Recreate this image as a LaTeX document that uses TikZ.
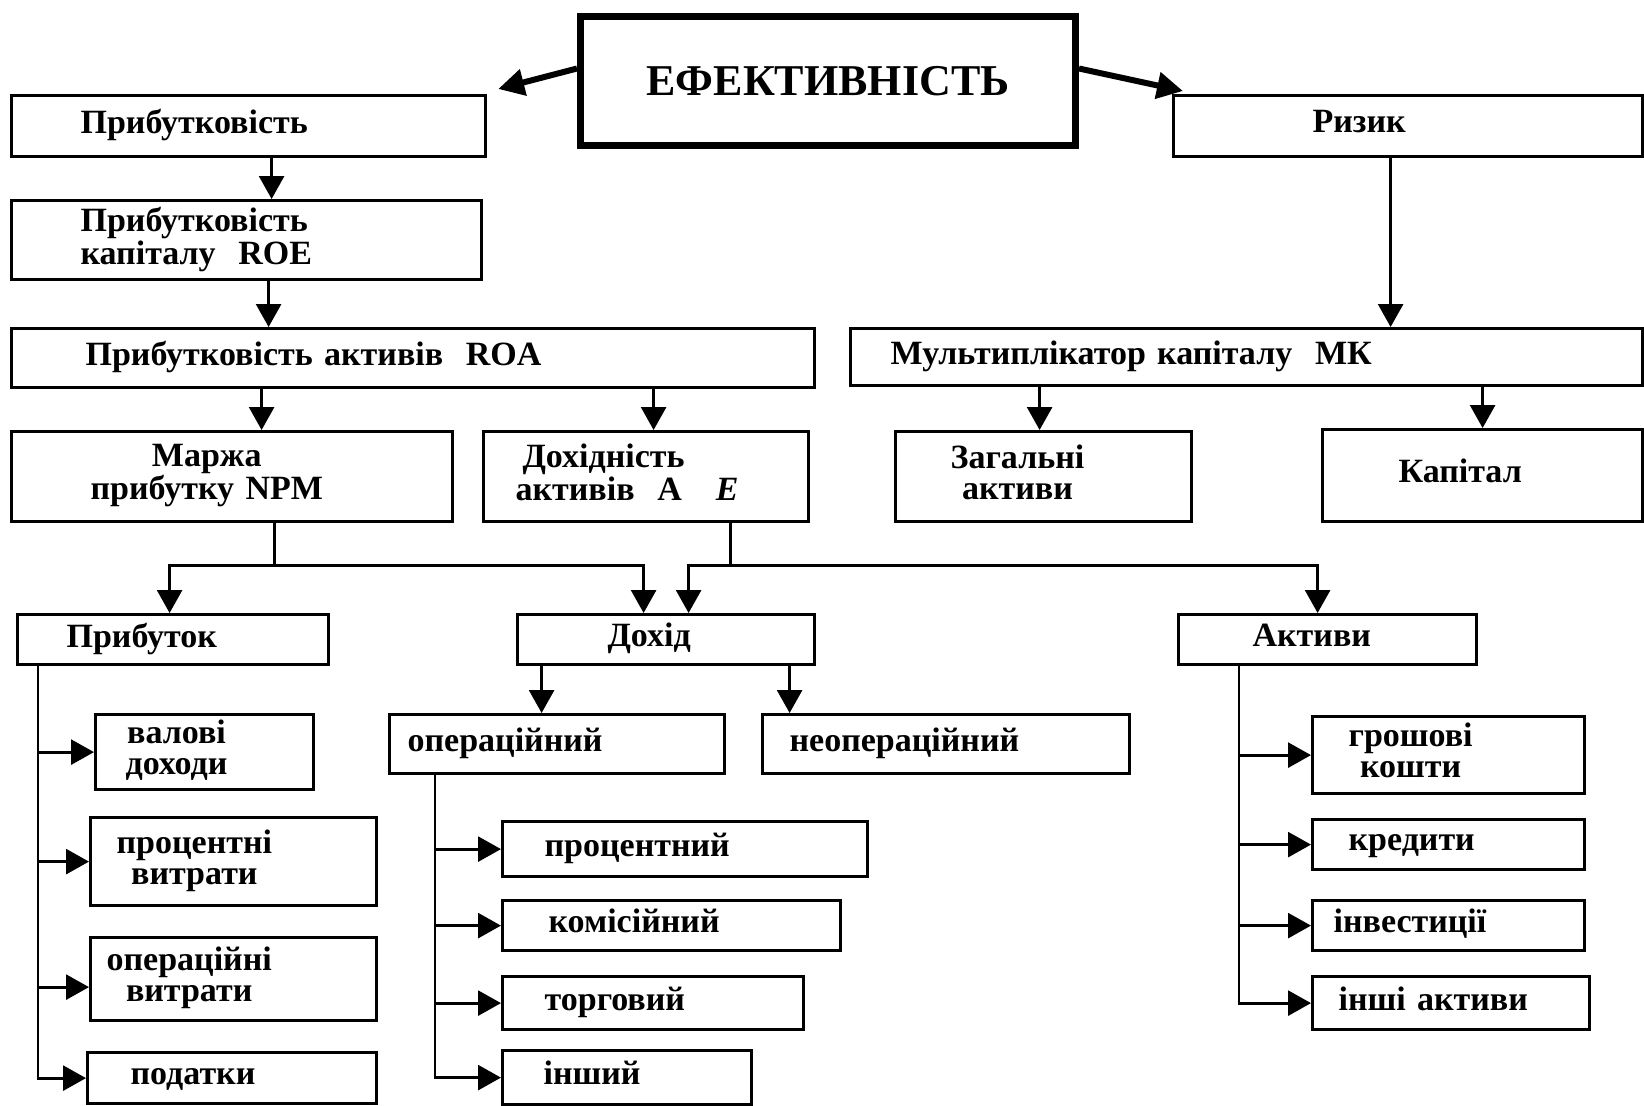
\documentclass[tikz,border=0pt]{standalone}
\usepackage{fontspec}
\setmainfont{Liberation Serif}
\usetikzlibrary{arrows.meta}
\newcommand\bxt[2]{\hspace*{#1}\begin{tabular}{@{}c@{}}#2\end{tabular}}
\newcommand\bxl[2]{\hspace*{#1}\begin{tabular}{@{}l@{}}#2\end{tabular}}
\begin{document}
\begin{tikzpicture}[x=0.5pt,y=-0.5pt,
 bx/.style={draw, line width=1.6pt, anchor=north west, inner xsep=0pt, inner ysep=0pt, align=left, font=\fontsize{17}{15.5}\selectfont\bfseries},
 conn/.style={line width=1.4pt, -{Triangle[length=11.5pt,width=12.5pt]}},
 bigconn/.style={line width=3pt, -{Triangle[length=13pt,width=13pt]}},
 ln/.style={line width=1.4pt}]
\useasboundingbox (0,0) rectangle (1644,1105);
\fill[white] (0,0) rectangle (1644,1105);

% main
\node[draw, line width=3.5pt, anchor=north west, minimum width=247.5pt, minimum height=64.5pt, inner sep=0pt, font=\fontsize{22}{26}\selectfont\bfseries] (main) at (577,13) {ЕФЕКТИВНІСТЬ};

% level 1
\node[bx, text width=237pt, minimum height=30.5pt] (prib) at (10,94) {\bxt{34.5pt}{Прибутковість}};
\node[bx, text width=234.5pt, minimum height=30.5pt] (rizyk) at (1172,94) {\bxt{69.5pt}{Ризик}};
\node[bx, text width=235pt, minimum height=39.5pt] (roe) at (10,199) {\bxl{34.5pt}{Прибутковість\\капіталу\ \ ROE}};
\node[bx, text width=401.5pt, minimum height=29.5pt] (roa) at (10,327) {\bxt{37pt}{Прибутковість активів\ \ ROA}};
\node[bx, text width=396pt, minimum height=28.5pt] (mk) at (849,327) {\bxt{20pt}{Мультиплікатор капіталу\ \ МК}};

% level 3
\node[bx, text width=220.5pt, minimum height=45pt] (npm) at (10,430) {\bxt{39.5pt}{Маржа\\прибутку NPM}};
\node[bx, text width=162.5pt, minimum height=45pt] (doh) at (482,430) {\bxl{16pt}{\hspace*{3.5pt}Дохідність\\активів\ \ A\quad\textit{E}}};
\node[bx, text width=148pt, minimum height=45pt] (zag) at (894,430) {\bxt{27.5pt}{Загальні\\активи}};
\node[bx, text width=160pt, minimum height=46pt] (kap) at (1321,428) {\bxt{38pt}{Капітал}};

% level 4
\node[bx, text width=155.5pt, minimum height=25pt] (prbt) at (16,613) {\bxt{24.5pt}{Прибуток}};
\node[bx, text width=148.5pt, minimum height=25pt] (dohid) at (516,613) {\bxt{45pt}{Дохід}};
\node[bx, text width=149pt, minimum height=25pt] (aktyvy) at (1177,613) {\bxt{37pt}{Активи}};

\node[bx, text width=167.5pt, minimum height=29.5pt] (oper) at (388,713) {\bxt{9pt}{операційний}};
\node[bx, text width=183.5pt, minimum height=29.5pt] (neop) at (761,713) {\bxt{13.5pt}{неопераційний}};

% left column
\node[bx, text width=109pt, minimum height=37.5pt] (valovi) at (94,713) {\bxt{15pt}{валові\\доходи}};
\node[bx, text width=143pt, minimum height=44pt] (protsvyt) at (89,816) {\bxt{13pt}{процентні\\витрати}};
\node[bx, text width=143pt, minimum height=41.5pt] (opervyt) at (89,936) {\bxt{8pt}{операційні\\витрати}};
\node[bx, text width=144.5pt, minimum height=25.5pt] (podatky) at (86,1051) {\bxt{21.5pt}{податки}};

% middle column
\node[bx, text width=182.5pt, minimum height=27.5pt] (protsent) at (501,820) {\bxt{21pt}{процентний}};
\node[bx, text width=169pt, minimum height=25pt] (komis) at (501,899) {\bxt{23pt}{комісійний}};
\node[bx, text width=150.5pt, minimum height=26.5pt] (torg) at (501,975) {\bxt{21pt}{торговий}};
\node[bx, text width=124.5pt, minimum height=27pt] (inshyi) at (501,1049) {\bxt{20.5pt}{інший}};

% right column
\node[bx, text width=136pt, minimum height=38.5pt] (grosh) at (1311,715) {\bxt{18pt}{грошові\\кошти}};
\node[bx, text width=136pt, minimum height=25pt] (kred) at (1311,818) {\bxt{18pt}{кредити}};
\node[bx, text width=136pt, minimum height=25pt] (invest) at (1311,899) {\bxt{10.5pt}{інвестиції}};
\node[bx, text width=138.5pt, minimum height=26.5pt] (inshi) at (1311,975) {\bxt{13pt}{інші активи}};

% connectors top
\draw[bigconn] ([yshift=6.25pt]main.west) -- ([xshift=5.5pt,yshift=2.5pt]prib.north east);
\draw[bigconn] ([yshift=6.25pt]main.east) -- ([xshift=5.5pt,yshift=1.5pt]rizyk.north west);

\draw[conn] ([xshift=11.5pt]prib.south) -- ([xshift=11.5pt]prib.south |- roe.north);
\draw[conn] ([xshift=11pt]roe.south) -- ([xshift=11pt]roe.south |- roa.north);
\draw[conn] ([xshift=14.75pt]npm.north |- roa.south) -- ([xshift=14.75pt]npm.north);
\draw[conn] ([xshift=3.75pt]doh.north |- roa.south) -- ([xshift=3.75pt]doh.north);
\draw[conn] ([xshift=-8.75pt]rizyk.south) -- ([xshift=-8.75pt]rizyk.south |- mk.north);
\draw[conn] ([xshift=-2pt]zag.north |- mk.south) -- ([xshift=-2pt]zag.north);
\draw[conn] (kap.north |- mk.south) -- (kap.north);

% junctions
\coordinate (j1) at ([xshift=21.25pt,yshift=-21pt]npm.south);
\coordinate (j2) at ([xshift=42.25pt,yshift=-21pt]doh.south);
\draw[ln] ([xshift=21.25pt]npm.south) -- (j1);
\draw[conn] (j1) -| ([xshift=-1.75pt]prbt.north);
\draw[conn] (j1) -| ([xshift=-11.25pt]dohid.north);
\draw[ln] ([xshift=42.25pt]doh.south) -- (j2);
\draw[conn] (j2) -| ([xshift=11.25pt]dohid.north);
\draw[conn] (j2) -| ([xshift=-5pt]aktyvy.north);

\draw[conn] ([xshift=-62.25pt]dohid.south) -- ([xshift=-62.25pt]dohid.south |- oper.north);
\draw[conn] ([xshift=61.75pt]dohid.south) -- ([xshift=61.75pt]dohid.south |- neop.north);

% trunks
\coordinate (t1) at ([xshift=11pt]prbt.south west);
\coordinate (ov) at ([yshift=-4pt]opervyt.west);
\draw[conn] (t1) |- (podatky.west);
\draw[conn] (t1 |- valovi.west) -- (valovi.west);
\draw[conn] (t1 |- protsvyt.west) -- (protsvyt.west);
\draw[conn] (t1 |- ov) -- (ov);

\coordinate (t2) at ([xshift=23.5pt]oper.south west);
\draw[conn] (t2) |- (inshyi.west);
\draw[conn] (t2 |- protsent.west) -- (protsent.west);
\draw[conn] (t2 |- komis.west) -- (komis.west);
\draw[conn] (t2 |- torg.west) -- (torg.west);

\coordinate (t3) at ([xshift=31pt]aktyvy.south west);
\draw[conn] (t3) |- (inshi.west);
\draw[conn] (t3 |- grosh.west) -- (grosh.west);
\draw[conn] (t3 |- kred.west) -- (kred.west);
\draw[conn] (t3 |- invest.west) -- (invest.west);
\end{tikzpicture}
\end{document}
